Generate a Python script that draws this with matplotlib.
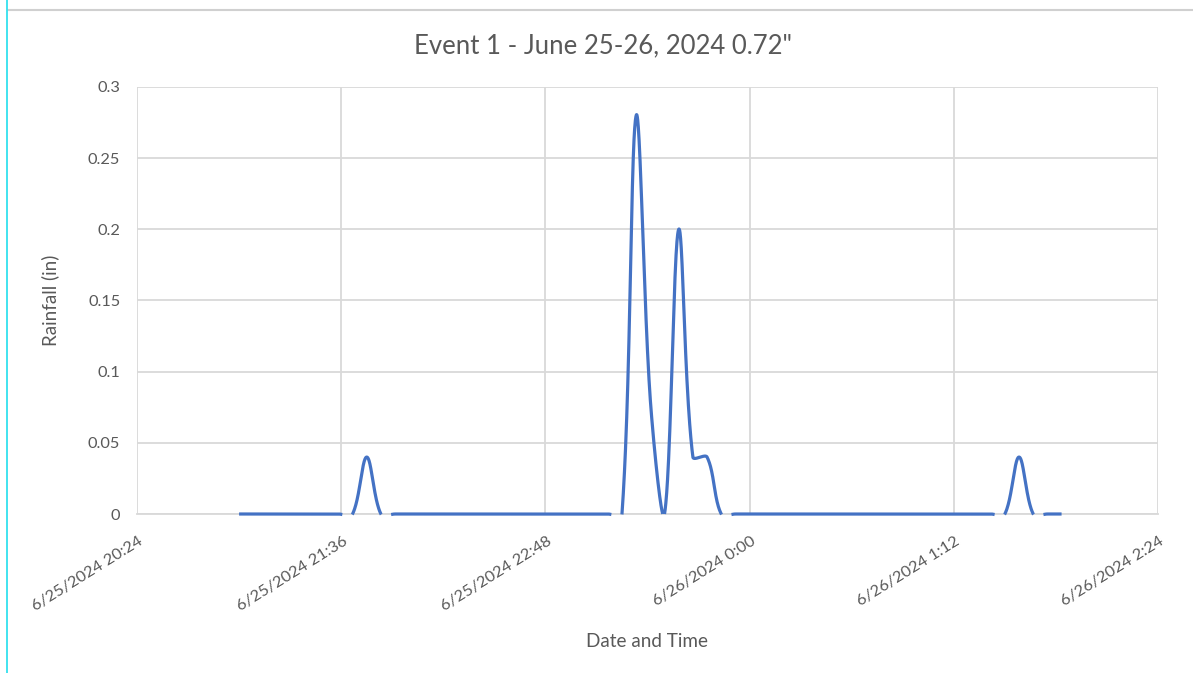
import numpy as np
import pandas as pd
import matplotlib
matplotlib.use("Agg")
import matplotlib.pyplot as plt
import matplotlib.dates as mdates
import matplotlib.transforms as mtrans
from matplotlib.ticker import FuncFormatter, MultipleLocator
from matplotlib.lines import Line2D

# ---------------- data ----------------
times = [
    "2024-06-25 21:00", "2024-06-25 21:05", "2024-06-25 21:10", "2024-06-25 21:15",
    "2024-06-25 21:20", "2024-06-25 21:25", "2024-06-25 21:30", "2024-06-25 21:35",
    "2024-06-25 21:40", "2024-06-25 21:45", "2024-06-25 21:50", "2024-06-25 21:55",
    "2024-06-25 22:00", "2024-06-25 22:05", "2024-06-25 22:10", "2024-06-25 22:15",
    "2024-06-25 22:20", "2024-06-25 22:25", "2024-06-25 22:30", "2024-06-25 22:35",
    "2024-06-25 22:40", "2024-06-25 22:45", "2024-06-25 22:50", "2024-06-25 22:55",
    "2024-06-25 23:00", "2024-06-25 23:05", "2024-06-25 23:10", "2024-06-25 23:15",
    "2024-06-25 23:20", "2024-06-25 23:25", "2024-06-25 23:30", "2024-06-25 23:35",
    "2024-06-25 23:40", "2024-06-25 23:45", "2024-06-25 23:50", "2024-06-25 23:55",
    "2024-06-26 00:00", "2024-06-26 00:05", "2024-06-26 00:10", "2024-06-26 00:15",
    "2024-06-26 00:20", "2024-06-26 00:25", "2024-06-26 00:30", "2024-06-26 00:35",
    "2024-06-26 00:40", "2024-06-26 00:45", "2024-06-26 00:50", "2024-06-26 00:55",
    "2024-06-26 01:00", "2024-06-26 01:05", "2024-06-26 01:10", "2024-06-26 01:15",
    "2024-06-26 01:20", "2024-06-26 01:25", "2024-06-26 01:30", "2024-06-26 01:35",
    "2024-06-26 01:40", "2024-06-26 01:45", "2024-06-26 01:50",
]
rainfall = [
    0, 0, 0, 0, 0, 0, 0, 0, 0, 0.04, 0, 0,
    0, 0, 0, 0, 0, 0, 0, 0, 0, 0, 0, 0,
    0, 0, 0, 0, 0.28, 0.08, 0, 0.20, 0.04, 0.04, 0, 0,
    0, 0, 0, 0, 0, 0, 0, 0, 0, 0, 0, 0,
    0, 0, 0, 0, 0, 0, 0, 0.04, 0, 0, 0,
]
title = 'Event 1 - June 25-26, 2024 0.72"'
x_label = "Date and Time"
y_label = "Rainfall (in)"
x_start = "2024-06-25 20:24"
x_end = "2024-06-26 02:24"
tick_step_min = 72

# ---------------- helpers ----------------
def excel_smooth(P, n=60):
    """Excel-like smoothed line: cubic Bezier with chord-length scaled
    control points, computed in display (pixel) space."""
    P = np.asarray(P, float)
    m = len(P)
    Q = np.vstack([P[0], P, P[-1]])
    t = np.linspace(0, 1, n, endpoint=False)[:, None]
    pieces = []
    for i in range(1, m):
        p0, p1, p2, p3 = Q[i - 1], Q[i], Q[i + 1], Q[i + 2]
        d01 = np.hypot(*(p1 - p0))
        d12 = np.hypot(*(p2 - p1))
        d23 = np.hypot(*(p3 - p2))
        c1 = p1 + (p2 - p0) * (d12 / (3 * (d01 + d12)) if d01 + d12 > 0 else 0)
        c2 = p2 - (p3 - p1) * (d12 / (3 * (d12 + d23)) if d12 + d23 > 0 else 0)
        b = ((1 - t) ** 3) * p1 + 3 * ((1 - t) ** 2) * t * c1 + 3 * (1 - t) * t**2 * c2 + t**3 * p2
        pieces.append(b)
    pieces.append(P[-1][None, :])
    return np.vstack(pieces)

# ---------------- plot ----------------
plt.rcParams["font.family"] = ["Lato", "DejaVu Sans"]
grey = "#595959"
gridc = "#d9d9d9"
W, H = 1193, 673

fig = plt.figure(figsize=(W / 100, H / 100), dpi=100)
ax = fig.add_axes([137 / W, 1 - 514 / H, (1158 - 137) / W, (514 - 87) / H])

x0 = mdates.date2num(pd.Timestamp(x_start))
x1 = mdates.date2num(pd.Timestamp(x_end))
ax.set_xlim(x0, x1)
ax.set_ylim(0, 0.3)

tnum = mdates.date2num(pd.to_datetime(times))
pts_px = ax.transData.transform(np.column_stack([tnum, rainfall]))
curve_px = excel_smooth(pts_px)
curve = ax.transData.inverted().transform(curve_px)
cy = np.where(curve[:, 1] < -0.0004, np.nan, curve[:, 1])
ax.plot(curve[:, 0], cy, color="#4472C4", lw=2.3, clip_on=False,
        solid_capstyle="butt", zorder=3)

ticks = mdates.date2num(pd.date_range(x_start, x_end, freq=f"{tick_step_min}min"))
ax.set_xticks(ticks)
ax.yaxis.set_major_locator(MultipleLocator(0.05))

def fmt_date(v, pos):
    d = mdates.num2date(v)
    return f"{d.month}/{d.day}/{d.year} {d.hour}:{d.minute:02d}"

def fmt_y(v, pos):
    if abs(v) < 1e-9:
        return "0"
    return f"{v:.2f}".rstrip("0")

ax.xaxis.set_major_formatter(FuncFormatter(fmt_date))
ax.yaxis.set_major_formatter(FuncFormatter(fmt_y))

ax.grid(True, color=gridc, lw=1.3, zorder=0)
for s in ["top", "right", "left"]:
    ax.spines[s].set_visible(False)
ax.spines["bottom"].set_color(gridc)
ax.spines["bottom"].set_linewidth(1.3)
ax.tick_params(axis="both", length=0, colors=grey, labelsize=11.8)
ax.tick_params(axis="y", pad=12)
ax.tick_params(axis="x", pad=19)
shift = mtrans.ScaledTranslation(5 / 100, 0, fig.dpi_scale_trans)
for lbl in ax.get_xticklabels():
    lbl.set_rotation(32)
    lbl.set_ha("right")
    lbl.set_va("center")
    lbl.set_rotation_mode("anchor")
    lbl.set_transform(lbl.get_transform() + shift)

fig.text(50 / W, 1 - 300 / H, y_label, rotation=90, ha="center", va="center",
         color=grey, fontsize=13.5)
fig.text(647 / W, 1 - 647 / H, x_label, ha="center", va="baseline",
         color=grey, fontsize=13.6)
fig.text(603 / W, 1 - 53.5 / H, title, ha="center", va="baseline",
         color=grey, fontsize=18.5)

# chart frame lines
fig.add_artist(Line2D([8 / W, 1], [1 - 10 / H] * 2, transform=fig.transFigure,
                      color="#d0d0d0", lw=1.5))
fig.add_artist(Line2D([7 / W] * 2, [0, 1], transform=fig.transFigure,
                      color="#33e0ee", lw=1.3))

fig.savefig("out.png", dpi=100)
